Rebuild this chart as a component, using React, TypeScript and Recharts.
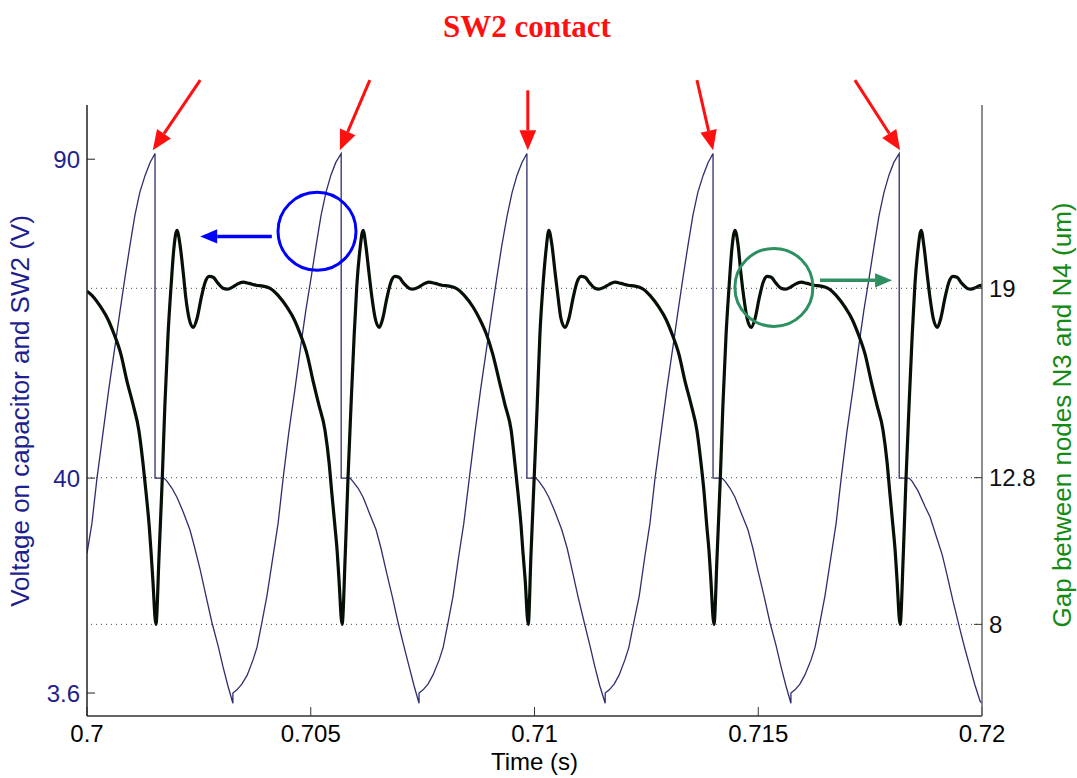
import { LineChart, Line, XAxis, YAxis, ReferenceLine, ReferenceDot } from 'recharts';

const TIME_TICKS = [0.7, 0.705, 0.71, 0.715, 0.72];
const VOLT_TICKS = [6.3, 40, 90];
const VOLT_TICK_LABELS = ['3.6', '40', '90'];
const GAP_TICKS = [8, 12.8, 19];

// voltage on capacitor and SW2: [time (s), value]
const VOLT_POINTS: [number, number][] = [
  [0.70000, 28.2], [0.70011, 32.9], [0.70022, 39.8], [0.70036, 47.2], [0.70049, 54.1], [0.70063, 60.9], [0.70074, 66.3],
  [0.70085, 71.5], [0.70096, 76.5], [0.70107, 81.2], [0.70118, 84.8], [0.70130, 87.5], [0.70141, 89.5], [0.70152, 90.9],
  [0.70152, 40.0], [0.70172, 40.0], [0.70179, 39.5], [0.70190, 38.4], [0.70201, 37.0], [0.70215, 34.7], [0.70230, 31.9],
  [0.70241, 29.0], [0.70253, 25.6], [0.70266, 21.5], [0.70279, 17.4], [0.70293, 13.7], [0.70304, 10.4], [0.70315, 7.4],
  [0.70326, 4.7], [0.70326, 6.3], [0.70335, 6.8], [0.70346, 7.7], [0.70358, 9.1], [0.70371, 11.5], [0.70380, 13.5],
  [0.70391, 17.4], [0.70402, 21.5], [0.70416, 27.9], [0.70427, 32.9], [0.70438, 39.8], [0.70451, 47.2], [0.70465, 54.1],
  [0.70478, 60.9], [0.70489, 66.3], [0.70501, 71.5], [0.70512, 76.5], [0.70523, 81.2], [0.70534, 84.8], [0.70545, 87.5],
  [0.70556, 89.5], [0.70568, 90.9],
  [0.70568, 40.0], [0.70588, 40.0], [0.70594, 39.5], [0.70606, 38.4], [0.70617, 37.0], [0.70630, 34.7], [0.70646, 31.9],
  [0.70657, 29.0], [0.70668, 25.6], [0.70682, 21.5], [0.70695, 17.4], [0.70708, 13.7], [0.70720, 10.4], [0.70731, 7.4],
  [0.70742, 4.7], [0.70742, 6.3], [0.70751, 6.8], [0.70762, 7.7], [0.70773, 9.1], [0.70787, 11.5], [0.70796, 13.5],
  [0.70807, 17.4], [0.70818, 21.5], [0.70831, 27.9], [0.70842, 32.9], [0.70854, 39.8], [0.70867, 47.2], [0.70880, 54.1],
  [0.70894, 60.9], [0.70905, 66.3], [0.70916, 71.5], [0.70927, 76.5], [0.70939, 81.2], [0.70950, 84.8], [0.70961, 87.5],
  [0.70972, 89.5], [0.70983, 90.9],
  [0.70983, 40.0], [0.71003, 40.0], [0.71010, 39.5], [0.71021, 38.4], [0.71032, 37.0], [0.71046, 34.7], [0.71061, 31.9],
  [0.71073, 29.0], [0.71084, 25.6], [0.71097, 21.5], [0.71111, 17.4], [0.71124, 13.7], [0.71135, 10.4], [0.71146, 7.4],
  [0.71158, 4.7], [0.71158, 6.3], [0.71167, 6.8], [0.71178, 7.7], [0.71189, 9.1], [0.71202, 11.5], [0.71211, 13.5],
  [0.71222, 17.4], [0.71234, 21.5], [0.71247, 27.9], [0.71258, 32.9], [0.71269, 39.8], [0.71283, 47.2], [0.71296, 54.1],
  [0.71310, 60.9], [0.71321, 66.3], [0.71332, 71.5], [0.71343, 76.5], [0.71354, 81.2], [0.71365, 84.8], [0.71377, 87.5],
  [0.71388, 89.5], [0.71399, 90.9],
  [0.71399, 40.0], [0.71419, 40.0], [0.71426, 39.5], [0.71437, 38.4], [0.71448, 37.0], [0.71461, 34.7], [0.71477, 31.9],
  [0.71488, 29.0], [0.71499, 25.6], [0.71513, 21.5], [0.71526, 17.4], [0.71540, 13.7], [0.71551, 10.4], [0.71562, 7.4],
  [0.71573, 4.7], [0.71573, 6.3], [0.71582, 6.8], [0.71593, 7.7], [0.71604, 9.1], [0.71618, 11.5], [0.71627, 13.5],
  [0.71638, 17.4], [0.71649, 21.5], [0.71663, 27.9], [0.71674, 32.9], [0.71685, 39.8], [0.71698, 47.2], [0.71712, 54.1],
  [0.71725, 60.9], [0.71736, 66.3], [0.71748, 71.5], [0.71759, 76.5], [0.71770, 81.2], [0.71781, 84.8], [0.71792, 87.5],
  [0.71803, 89.5], [0.71815, 90.9],
  [0.71815, 40.0], [0.71837, 40.0], [0.71844, 39.5], [0.71857, 38.0], [0.71873, 35.5], [0.71884, 33.9], [0.71899, 30.6],
  [0.71911, 28.0], [0.71922, 24.8], [0.71935, 20.8], [0.71951, 16.2], [0.71962, 13.2], [0.71973, 10.4], [0.71984, 7.6],
  [0.71996, 5.0], [0.72000, 4.7],
];

// gap between nodes N3 and N4 (um): [time (s), value]
const GAP_POINTS: [number, number][] = [
  [0.70000, 18.90], [0.70011, 18.77], [0.70031, 18.38], [0.70047, 17.98], [0.70060, 17.52], [0.70076, 16.83], [0.70089, 15.98],
  [0.70103, 15.19], [0.70116, 14.34], [0.70125, 13.29], [0.70132, 12.31], [0.70139, 11.22], [0.70143, 10.40], [0.70147, 9.49],
  [0.70154, 8.0], [0.70161, 10.24], [0.70168, 12.70], [0.70174, 15.16], [0.70181, 17.46], [0.70188, 19.10], [0.70194, 20.28],
  [0.70201, 20.90], [0.70208, 20.41], [0.70215, 19.52], [0.70221, 18.67], [0.70228, 18.02], [0.70237, 17.72], [0.70246, 18.02],
  [0.70255, 18.67], [0.70264, 19.20], [0.70273, 19.39], [0.70282, 19.36], [0.70293, 19.16], [0.70304, 19.00], [0.70313, 18.97],
  [0.70324, 19.03], [0.70335, 19.13], [0.70349, 19.20], [0.70362, 19.16], [0.70378, 19.10], [0.70393, 19.07],
  [0.70409, 19.00], [0.70427, 18.77], [0.70447, 18.38], [0.70463, 17.98], [0.70476, 17.52], [0.70492, 16.83], [0.70505, 15.98],
  [0.70518, 15.19], [0.70532, 14.34], [0.70541, 13.29], [0.70547, 12.31], [0.70554, 11.22], [0.70559, 10.40], [0.70563, 9.49],
  [0.70570, 8.0], [0.70577, 10.24], [0.70583, 12.70], [0.70590, 15.16], [0.70597, 17.46], [0.70603, 19.10], [0.70610, 20.28],
  [0.70617, 20.90], [0.70623, 20.41], [0.70630, 19.52], [0.70637, 18.67], [0.70644, 18.02], [0.70653, 17.72], [0.70661, 18.02],
  [0.70670, 18.67], [0.70679, 19.20], [0.70688, 19.39], [0.70697, 19.36], [0.70708, 19.16], [0.70720, 19.00], [0.70728, 18.97],
  [0.70740, 19.03], [0.70751, 19.13], [0.70764, 19.20], [0.70778, 19.16], [0.70793, 19.10], [0.70809, 19.07],
  [0.70825, 19.00], [0.70843, 18.77], [0.70863, 18.38], [0.70878, 17.98], [0.70892, 17.52], [0.70907, 16.83], [0.70921, 15.98],
  [0.70934, 15.19], [0.70948, 14.34], [0.70956, 13.29], [0.70963, 12.31], [0.70970, 11.22], [0.70974, 10.40], [0.70979, 9.49],
  [0.70986, 8.0], [0.70992, 10.24], [0.70999, 12.70], [0.71006, 15.16], [0.71012, 17.46], [0.71019, 19.10], [0.71026, 20.28],
  [0.71032, 20.90], [0.71039, 20.41], [0.71046, 19.52], [0.71053, 18.67], [0.71059, 18.02], [0.71068, 17.72], [0.71077, 18.02],
  [0.71086, 18.67], [0.71095, 19.20], [0.71104, 19.39], [0.71113, 19.36], [0.71124, 19.16], [0.71135, 19.00], [0.71144, 18.97],
  [0.71155, 19.03], [0.71167, 19.13], [0.71180, 19.20], [0.71193, 19.16], [0.71209, 19.10], [0.71225, 19.07],
  [0.71240, 19.00], [0.71258, 18.77], [0.71278, 18.38], [0.71294, 17.98], [0.71307, 17.52], [0.71323, 16.83], [0.71336, 15.98],
  [0.71350, 15.19], [0.71363, 14.34], [0.71372, 13.29], [0.71379, 12.31], [0.71385, 11.22], [0.71390, 10.40], [0.71394, 9.49],
  [0.71401, 8.0], [0.71408, 10.24], [0.71415, 12.70], [0.71421, 15.16], [0.71428, 17.46], [0.71435, 19.10], [0.71441, 20.28],
  [0.71448, 20.90], [0.71455, 20.41], [0.71461, 19.52], [0.71468, 18.67], [0.71475, 18.02], [0.71484, 17.72], [0.71493, 18.02],
  [0.71502, 18.67], [0.71511, 19.20], [0.71520, 19.39], [0.71529, 19.36], [0.71540, 19.16], [0.71551, 19.00], [0.71560, 18.97],
  [0.71571, 19.03], [0.71582, 19.13], [0.71596, 19.20], [0.71609, 19.16], [0.71625, 19.10], [0.71640, 19.07],
  [0.71656, 19.00], [0.71674, 18.77], [0.71694, 18.38], [0.71710, 17.98], [0.71723, 17.52], [0.71739, 16.83], [0.71752, 15.98],
  [0.71765, 15.19], [0.71779, 14.34], [0.71788, 13.29], [0.71794, 12.31], [0.71801, 11.22], [0.71806, 10.40], [0.71810, 9.49],
  [0.71817, 8.0], [0.71824, 10.24], [0.71830, 12.70], [0.71837, 15.16], [0.71844, 17.46], [0.71850, 19.10], [0.71857, 20.28],
  [0.71864, 20.90], [0.71870, 20.41], [0.71877, 19.52], [0.71884, 18.67], [0.71891, 18.02], [0.71900, 17.72], [0.71908, 18.02],
  [0.71917, 18.67], [0.71926, 19.20], [0.71935, 19.39], [0.71944, 19.36], [0.71955, 19.16], [0.71967, 19.00], [0.71975, 18.97],
  [0.71987, 19.03], [0.71998, 19.10], [0.72000, 19.02],
];

// annotation arrows "SW2 contact": [t start, V start, t tip, V tip] on the voltage axis
const CONTACT_ARROWS: [number, number, number, number][] = [
  [0.70253, 102.4, 0.70147, 91.4],
  [0.70632, 102.4, 0.70565, 91.4],
  [0.70985, 100.8, 0.70985, 91.4],
  [0.71363, 102.4, 0.71399, 91.4],
  [0.71716, 102.4, 0.71817, 91.4],
];

const voltData = VOLT_POINTS.map(([t, v]) => ({ t, v }));
const gapData = GAP_POINTS.map(([t, g]) => ({ t, g }));

const arrowShape = (color: string, width: number, head: number) => (props: any) => {
  const { x1, y1, x2, y2 } = props;
  const ang = Math.atan2(y2 - y1, x2 - x1);
  const bx = x2 - head * Math.cos(ang);
  const by = y2 - head * Math.sin(ang);
  const w = head * 0.42;
  const px = -Math.sin(ang) * w;
  const py = Math.cos(ang) * w;
  return (
    <g>
      <line x1={x1} y1={y1} x2={bx} y2={by} stroke={color} strokeWidth={width} />
      <polygon points={`${x2},${y2} ${bx + px},${by + py} ${bx - px},${by - py}`} fill={color} />
    </g>
  );
};

const redArrow = arrowShape('#ff1010', 3, 20);
const blueArrow = arrowShape('#0000ff', 3.5, 17);
const greenArrow = arrowShape('#2e9060', 3.5, 17);

export default function App() {
  return (
    <div
      style={{
        position: 'absolute',
        left: 0,
        top: 0,
        width: 1077,
        height: 778,
        background: '#fff',
        fontFamily: "'Liberation Sans', Arial, sans-serif",
      }}
    >
      <LineChart width={1077} height={778} margin={{ top: 105, right: 0, bottom: 0, left: 0 }}>
        <XAxis
          xAxisId="t"
          dataKey="t"
          type="number"
          domain={[0.7, 0.72]}
          ticks={TIME_TICKS}
          interval={0}
          allowDataOverflow
          height={62}
          stroke="#333"
          axisLine={{ stroke: '#333', strokeWidth: 1.5 }}
          tickSize={-9}
          tickMargin={18}
          tick={{ fill: '#000', fontSize: 24 }}
          label={{ value: 'Time (s)', position: 'insideBottom', offset: 8, fill: '#000', fontSize: 24 }}
        />
        <XAxis
          xAxisId="top"
          orientation="top"
          type="number"
          domain={[0.7, 0.72]}
          height={0}
          tick={false}
          tickLine={false}
          axisLine={{ stroke: '#666', strokeWidth: 1.5 }}
        />
        <YAxis
          yAxisId="volt"
          orientation="left"
          type="number"
          domain={[2.7, 98.5]}
          ticks={VOLT_TICKS}
          interval={0}
          allowDataOverflow
          width={87}
          axisLine={{ stroke: '#222', strokeWidth: 1.5 }}
          tickLine={{ stroke: '#222' }}
          tickSize={-8}
          tickMargin={15}
          tick={{ fill: '#1f1f8f', fontSize: 24 }}
          tickFormatter={(v: number) => VOLT_TICK_LABELS[VOLT_TICKS.indexOf(v)] ?? String(v)}
        />
        <YAxis
          yAxisId="gap"
          orientation="right"
          type="number"
          domain={[5, 25]}
          ticks={GAP_TICKS}
          interval={0}
          allowDataOverflow
          width={95}
          axisLine={{ stroke: '#666', strokeWidth: 1.5 }}
          tickLine={{ stroke: '#333' }}
          tickSize={-8}
          tickMargin={15}
          tick={{ fill: '#111', fontSize: 24 }}
        />

        {GAP_TICKS.map(v => (
          <ReferenceLine key={v} xAxisId="t" yAxisId="gap" y={v} stroke="#444" strokeDasharray="1 4" />
        ))}

        <Line
          xAxisId="t"
          yAxisId="volt"
          data={voltData}
          dataKey="v"
          type="linear"
          stroke="#2e2e6e"
          strokeWidth={1.3}
          dot={false}
          isAnimationActive={false}
        />
        <Line
          xAxisId="t"
          yAxisId="gap"
          data={gapData}
          dataKey="g"
          type="monotone"
          stroke="#061006"
          strokeWidth={3.2}
          dot={false}
          isAnimationActive={false}
        />

        {CONTACT_ARROWS.map(([t0, v0, t1, v1], i) => (
          <ReferenceLine
            key={i}
            xAxisId="t"
            yAxisId="volt"
            segment={[{ x: t0, y: v0 }, { x: t1, y: v1 }]}
            ifOverflow="visible"
            shape={redArrow}
          />
        ))}
        <ReferenceDot xAxisId="t" yAxisId="volt" x={0.70514} y={78.7} r={39} fill="none" stroke="#0000ff" strokeWidth={3} ifOverflow="visible" />
        <ReferenceLine
          xAxisId="t"
          yAxisId="volt"
          segment={[{ x: 0.70413, y: 77.9 }, { x: 0.70253, y: 77.9 }]}
          ifOverflow="visible"
          shape={blueArrow}
        />
        <ReferenceDot xAxisId="t" yAxisId="gap" x={0.71535} y={19.03} r={39} fill="none" stroke="#2e9060" strokeWidth={3} ifOverflow="visible" />
        <ReferenceLine
          xAxisId="t"
          yAxisId="gap"
          segment={[{ x: 0.71638, y: 19.26 }, { x: 0.71799, y: 19.26 }]}
          ifOverflow="visible"
          shape={greenArrow}
        />
      </LineChart>

      <div
        style={{
          position: 'absolute',
          left: 377,
          width: 300,
          top: 11,
          lineHeight: '31px',
          textAlign: 'center',
          fontFamily: "'Liberation Serif', 'Times New Roman', serif",
          fontWeight: 'bold',
          fontSize: 31,
          color: '#ff1010',
        }}
      >
        SW2 contact
      </div>
      <div
        style={{
          position: 'absolute',
          left: 20,
          top: 411,
          transform: 'translate(-50%, -50%) rotate(-90deg)',
          whiteSpace: 'nowrap',
          fontSize: 26,
          color: '#1f1f8f',
        }}
      >
        Voltage on capacitor and SW2 (V)
      </div>
      <div
        style={{
          position: 'absolute',
          left: 1062,
          top: 415,
          transform: 'translate(-50%, -50%) rotate(-90deg)',
          whiteSpace: 'nowrap',
          fontSize: 26,
          color: '#138a13',
        }}
      >
        Gap between nodes N3 and N4 (um)
      </div>
    </div>
  );
}
